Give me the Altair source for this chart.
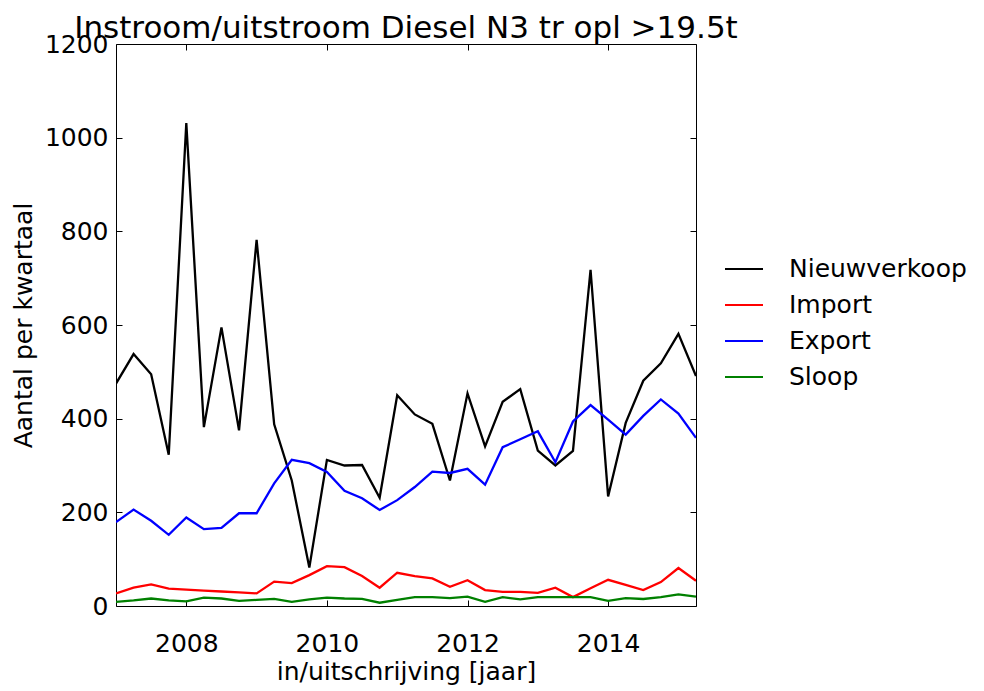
import altair as alt
import pandas as pd

# quarterly registration moments (year fractions)
quarters = [2007.0, 2007.25, 2007.5, 2007.75,
            2008.0, 2008.25, 2008.5, 2008.75,
            2009.0, 2009.25, 2009.5, 2009.75,
            2010.0, 2010.25, 2010.5, 2010.75,
            2011.0, 2011.25, 2011.5, 2011.75,
            2012.0, 2012.25, 2012.5, 2012.75,
            2013.0, 2013.25, 2013.5, 2013.75,
            2014.0, 2014.25, 2014.5, 2014.75,
            2015.0, 2015.25]

series_names = ["Nieuwverkoop", "Import", "Export", "Sloop"]
series_colors = ["#000000", "#ff0000", "#0000ff", "#008000"]

nieuwverkoop = [475, 538, 495, 323, 1031, 382, 595, 375, 782, 388, 268, 82,
                312, 300, 301, 231, 450, 409, 389, 268, 454, 341, 436, 463,
                332, 300, 331, 718, 234, 391, 481, 518, 581, 491]
import_ = [27, 39, 46, 37, 35, 33, 31, 29, 27, 52, 49, 66,
           85, 83, 64, 39, 71, 64, 59, 41, 55, 34, 30, 30,
           28, 39, 19, 38, 56, 45, 34, 51, 81, 54]
export = [179, 206, 182, 152, 189, 164, 167, 198, 198, 262, 312, 305,
          286, 246, 230, 205, 226, 254, 287, 284, 293, 259, 339, 356,
          373, 307, 394, 429, 398, 366, 406, 441, 411, 359]
sloop = [9, 12, 16, 12, 10, 18, 16, 11, 13, 15, 9, 14,
         18, 16, 15, 7, 13, 19, 19, 17, 20, 9, 19, 14,
         19, 19, 19, 19, 11, 17, 15, 19, 25, 20]

x_ticks = [2008, 2010, 2012, 2014]
y_ticks = [0, 200, 400, 600, 800, 1000, 1200]

rows = []
for name, vals in zip(series_names, [nieuwverkoop, import_, export, sloop]):
    for q, v in zip(quarters, vals):
        rows.append({"jaar": q, "aantal": v, "reeks": name})
df = pd.DataFrame(rows)

FONT = "DejaVu Sans"
x_scale = alt.Scale(domain=[2007, 2015.25], nice=False, zero=False)
y_scale = alt.Scale(domain=[0, 1200], nice=False)

lines = alt.Chart(df).mark_line(strokeWidth=2.3, clip=True).encode(
    x=alt.X("jaar:Q", scale=x_scale,
            axis=alt.Axis(orient="bottom", values=x_ticks, format="d",
                          offset=-6, tickSize=6, domain=False, grid=False,
                          labelPadding=25, labelOverlap=False,
                          title="in/uitschrijving [jaar]", titlePadding=3)),
    y=alt.Y("aantal:Q", scale=y_scale,
            axis=alt.Axis(orient="left", values=y_ticks, format="d",
                          offset=-6, tickSize=6, domain=False, grid=False,
                          labelPadding=8, labelOverlap=False,
                          title="Aantal per kwartaal", titlePadding=8)),
    color=alt.Color("reeks:N",
                    scale=alt.Scale(domain=series_names, range=series_colors),
                    sort=series_names,
                    legend=alt.Legend(title=None, orient="none",
                                      legendX=608, legendY=205,
                                      symbolType="stroke", symbolSize=1444,
                                      symbolStrokeWidth=2, labelFontSize=25,
                                      labelFont=FONT, labelColor="black",
                                      labelOffset=25, rowPadding=3,
                                      labelLimit=400, padding=0)),
)

frame = alt.Chart(df).mark_line(opacity=0).encode(
    x=alt.X("jaar:Q", scale=x_scale,
            axis=alt.Axis(orient="top", values=x_ticks, labels=False,
                          offset=-6, tickSize=6, domain=False, grid=False,
                          title=None)),
    y=alt.Y("aantal:Q", scale=y_scale,
            axis=alt.Axis(orient="right", values=y_ticks, labels=False,
                          offset=-6, tickSize=6, domain=False, grid=False,
                          title=None)),
    detail="reeks:N",
)

chart = alt.layer(lines, frame).resolve_axis(
    x="independent", y="independent"
).properties(
    width=580,
    height=562,
    title=alt.TitleParams(text="Instroom/uitstroom Diesel N3 tr opl >19.5t",
                          fontSize=31, font=FONT, fontWeight="normal",
                          anchor="middle", frame="group",
                          offset=1, dy=14, color="black"),
    autosize=alt.AutoSizeParams(type="none"),
    padding={"left": 108, "top": 36, "right": 278, "bottom": 85},
).configure_view(
    stroke="black", strokeWidth=1
).configure_axis(
    labelFont=FONT, labelFontSize=25, labelColor="black",
    titleFont=FONT, titleFontSize=25, titleFontWeight="normal",
    titleColor="black", tickColor="black", tickWidth=1,
)

chart.save("out.html", embed_options={"renderer": "svg", "actions": False})
